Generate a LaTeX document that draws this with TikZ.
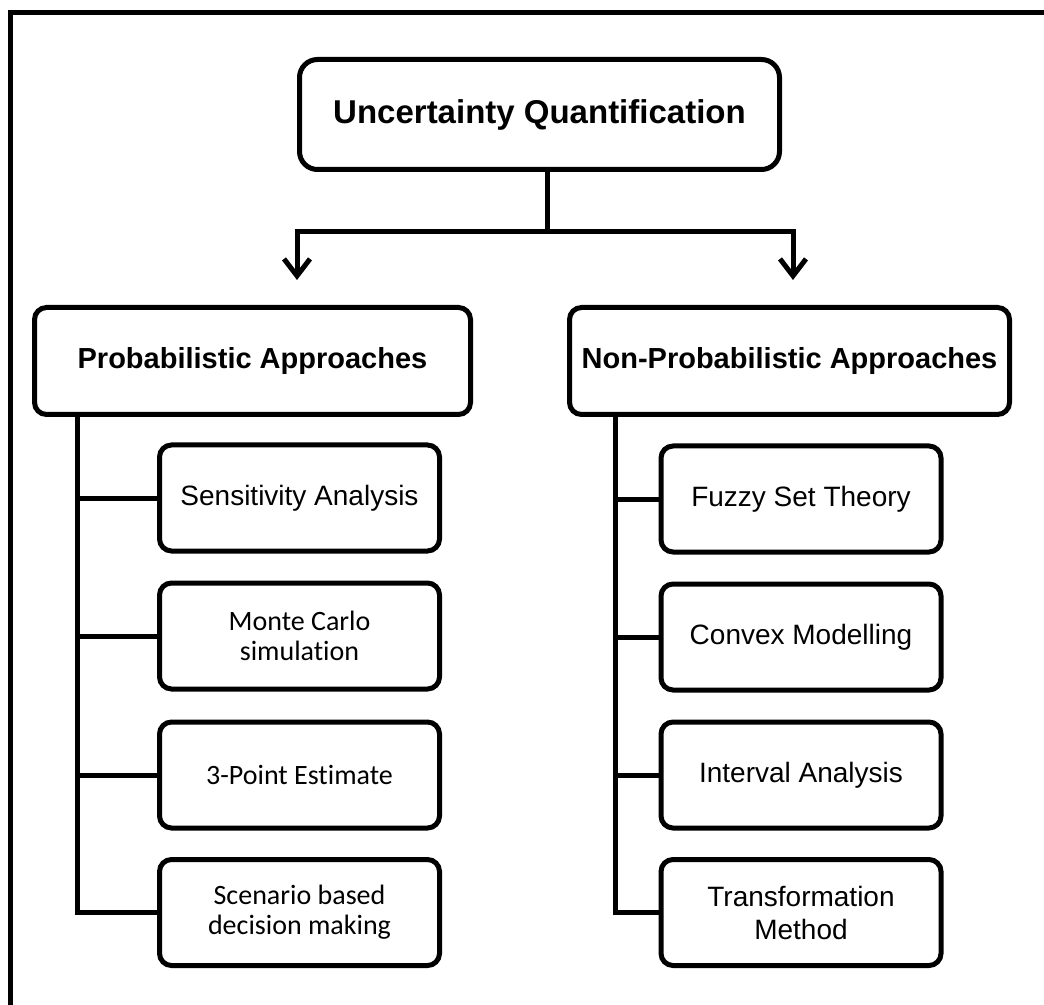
\documentclass[tikz,border=0pt]{standalone}
\usepackage{fontspec}
\setmainfont{Liberation Sans}
\newfontfamily\calibri[Ligatures=NoCommon]{Carlito}
\usetikzlibrary{arrows.meta}

\begin{document}
\begin{tikzpicture}[x=0.5pt, y=-0.5pt,
	box/.style={rectangle, rounded corners=6pt, draw, line width=2.5pt, align=center, inner sep=0pt},
	rootbox/.style={box, rounded corners=9pt, minimum width=240pt, minimum height=55pt, font=\fontsize{16.5}{19}\selectfont\bfseries},
	headbox/.style={box, minimum height=53.5pt, font=\fontsize{14.5}{17}\selectfont\bfseries},
	itembox/.style={box, minimum width=140pt, minimum height=53pt, font=\fontsize{14}{16.5}\selectfont},
	cal/.style={font=\fontsize{14}{15}\selectfont\calibri},
	link/.style={line width=2.5pt}]
	\useasboundingbox (0,0) rectangle (1044,1005);

	% frame
	\draw [line width=2.5pt] (10,1020) -- (10,12.5) -- (1060,12.5);

	\node [rootbox] (uq) at (539.5,114.5) {Uncertainty Quantification};

	\node [headbox, minimum width=218pt] (prob) at (252.5,361) {Probabilistic Approaches};
	\node [headbox, minimum width=220pt] (nonprob) at (789.5,361) {Non-Probabilistic Approaches};

	\node [itembox] (sa) at (299.5,498) {Sensitivity Analysis};
	\node [itembox, cal] (mc) at (299.5,636) {Monte Carlo\\simulation};
	\node [itembox, cal] (pe) at (299.5,775) {3-Point Estimate};
	\node [itembox, cal] (sb) at (299.5,912.5) {Scenario based\\decision making};

	\node [itembox] (fs) at (801,499) {Fuzzy Set Theory};
	\node [itembox] (cm) at (801,637) {Convex Modelling};
	\node [itembox] (ia) at (801,775) {Interval Analysis};
	\node [itembox] (tm) at (801,912.5) {Transformation\\Method};

	\coordinate (fork) at (547,232);
	\coordinate (lend) at (297,280);
	\coordinate (rend) at (793,280);

	\draw [link] (uq.south -| fork) -- (fork);
	\begin{scope}[-{Straight Barb[length=8.5pt, width=13pt]}, link]
		\draw (fork) -| (lend);
		\draw (fork) -| (rend);
	\end{scope}

	\begin{scope}[link]
		\draw ([xshift=22.5pt]prob.south west) |- (sb.west);
		\foreach \n in {sa, mc, pe}
			\draw (\n.west) -- +(-80,0);
		\draw ([xshift=24pt]nonprob.south west) |- (tm.west);
		\foreach \n in {fs, cm, ia}
			\draw (\n.west) -- +(-44,0);
	\end{scope}

\end{tikzpicture}
\end{document}
